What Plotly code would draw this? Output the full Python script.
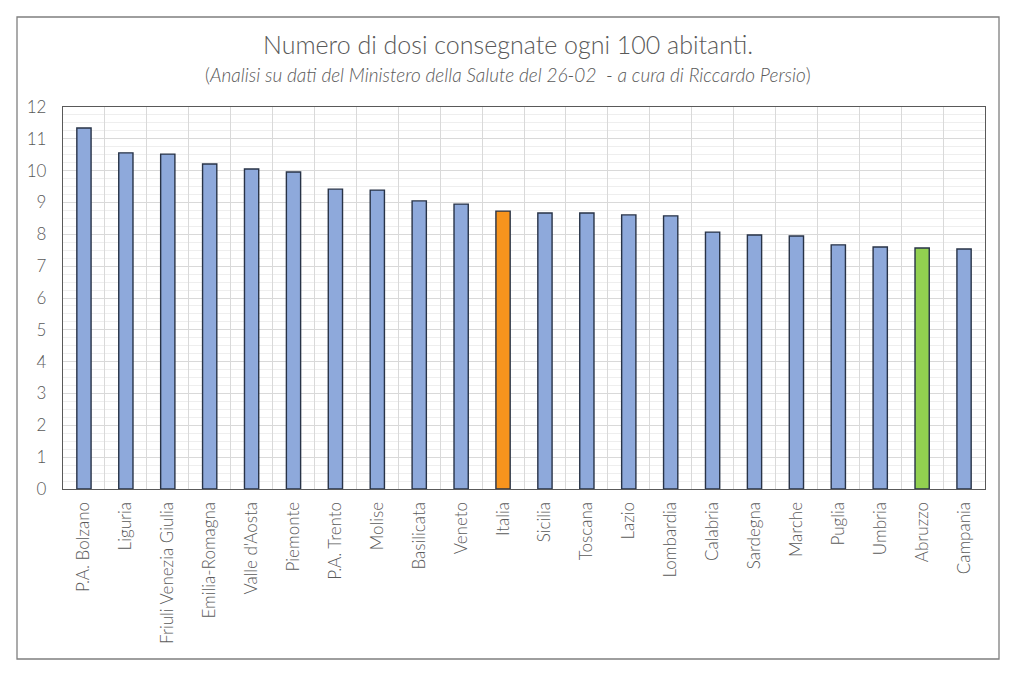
import plotly.graph_objects as go

regions = ["P.A. Bolzano", "Liguria", "Friuli Venezia Giulia", "Emilia-Romagna", "Valle d'Aosta",
           "Piemonte", "P.A. Trento", "Molise", "Basilicata", "Veneto", "Italia", "Sicilia",
           "Toscana", "Lazio", "Lombardia", "Calabria", "Sardegna", "Marche", "Puglia",
           "Umbria", "Abruzzo", "Campania"]
doses = [11.34, 10.56, 10.52, 10.21, 10.05, 9.96, 9.42, 9.39, 9.05, 8.95, 8.73, 8.67,
         8.67, 8.61, 8.58, 8.07, 7.98, 7.95, 7.67, 7.60, 7.57, 7.54]

BLUE = "#8EA9DB"
ORANGE = "#F7941D"
GREEN = "#92D050"
colors = [ORANGE if r == "Italia" else GREEN if r == "Abruzzo" else BLUE for r in regions]

title = "Numero di dosi consegnate ogni 100 abitanti."
subtitle = "(<i>Analisi su dati del Ministero della Salute del 26-02  - a cura di Riccardo Persio</i>)"

# page has an 8px body margin; figure coordinates = page coordinates - 8
OFF = 8
W, H = 1008, 668
L, R, T, B = 63 - OFF, W - (985 - OFF), 107 - OFF, H - (489 - OFF)

FONT = "Lato, Open Sans, sans-serif"
TXT = "#595959"

fig = go.Figure(go.Bar(
    x=regions, y=doses,
    marker=dict(color=colors, line=dict(color="#283347", width=1.4)),
))

fig.update_layout(
    width=W, height=H,
    margin=dict(l=L, r=R, t=T, b=B),
    paper_bgcolor="white", plot_bgcolor="white",
    bargap=0.66,
    showlegend=False,
    font=dict(family=FONT, color=TXT),
)

fig.update_xaxes(
    type="category", tickson="boundaries", ticks="", tickangle=-90,
    tickfont=dict(size=17, color=TXT, weight=300),
    ticklabelstandoff=5,
    showgrid=True, gridcolor="#D9D9D9", gridwidth=1,
    showline=True, linecolor="#595959", linewidth=1.3, mirror=True,
)
fig.update_yaxes(
    range=[0, 12], dtick=1, tick0=0,
    tickfont=dict(size=17, color=TXT, weight=300),
    ticklabelstandoff=12,
    showgrid=True, gridcolor="#D9D9D9", gridwidth=1,
    minor=dict(dtick=0.25, showgrid=True, gridcolor="#EEEEEE", gridwidth=1),
    showline=True, linecolor="#595959", linewidth=1.3, mirror=True,
    zeroline=False, ticks="",
)

pw, ph = W - L - R, H - T - B
def px_x(v):
    return (v - OFF - L) / pw
def px_y(v):
    return (H - B - (v - OFF)) / ph

fig.add_shape(type="rect", xref="paper", yref="paper",
              x0=px_x(17), x1=px_x(999), y0=px_y(659), y1=px_y(17),
              line=dict(color="#7F7F7F", width=1.3), fillcolor="rgba(0,0,0,0)", layer="below")

fig.add_annotation(text=title, xref="paper", yref="paper", x=px_x(508), y=px_y(44),
                   showarrow=False, font=dict(size=25, color=TXT, weight=300), yanchor="middle")
fig.add_annotation(text=subtitle, xref="paper", yref="paper", x=px_x(508), y=px_y(75),
                   showarrow=False, font=dict(size=19, color=TXT, weight=300), yanchor="middle")

fig.write_html("out.html")
